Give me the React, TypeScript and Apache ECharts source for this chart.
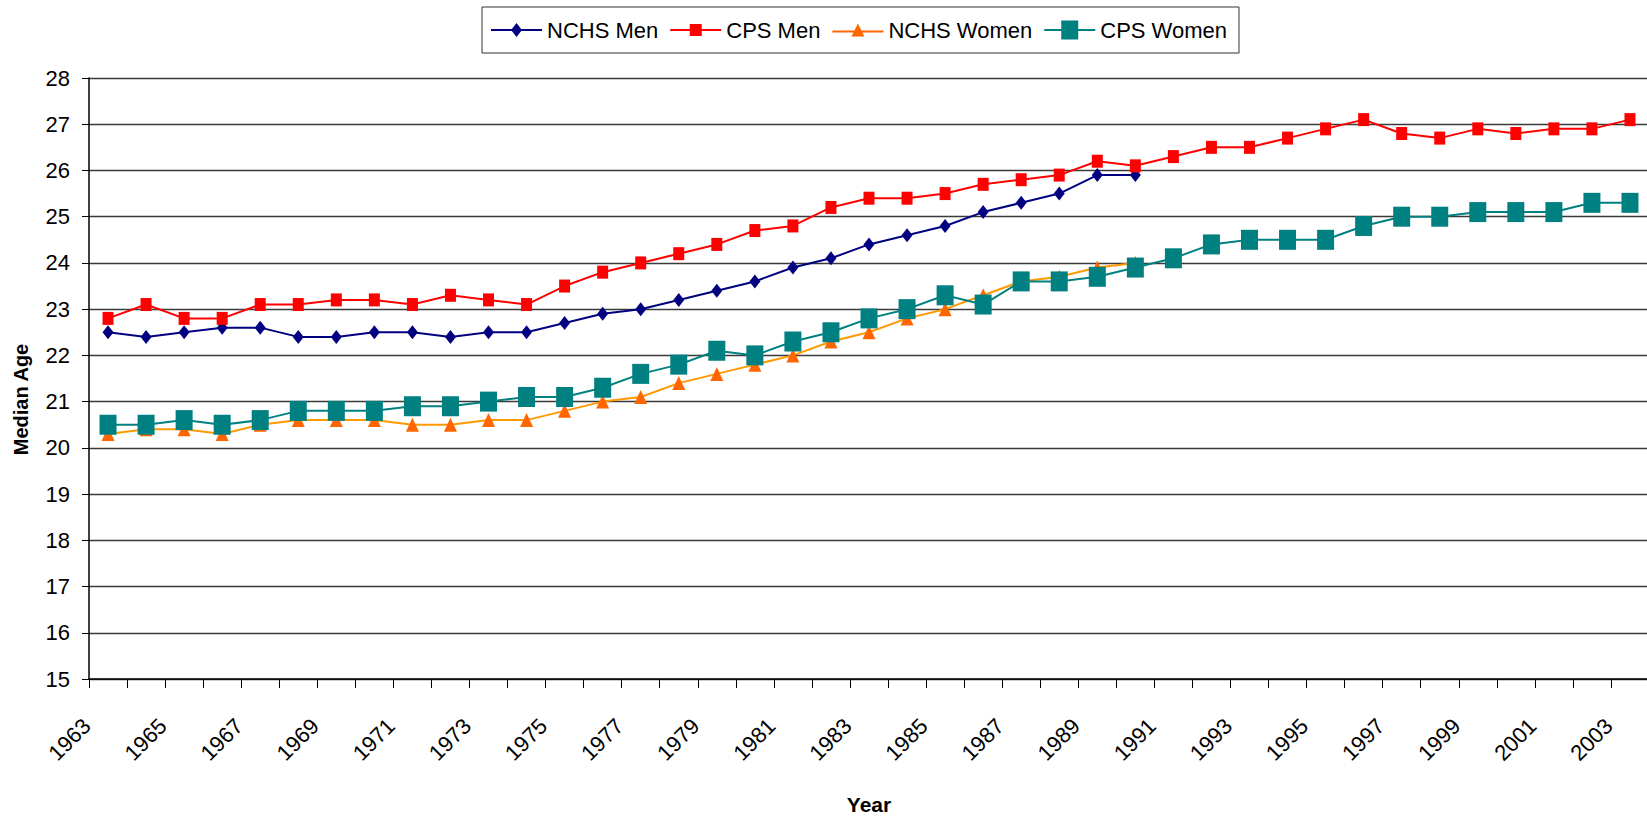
import React, { useEffect, useRef } from "react";
import * as echarts from "echarts";

const years: string[] = [];
for (let y = 1963; y <= 2003; y++) years.push(String(y));

const nchsMen: (number | null)[] = [
  22.5, 22.4, 22.5, 22.6, 22.6, 22.4, 22.4, 22.5, 22.5, 22.4, 22.5, 22.5,
  22.7, 22.9, 23.0, 23.2, 23.4, 23.6, 23.9, 24.1, 24.4, 24.6, 24.8, 25.1, 25.3, 25.5, 25.9, 25.9,
  null, null, null, null, null, null, null, null, null, null, null, null, null,
];

const cpsMen: number[] = [
  22.8, 23.1, 22.8, 22.8, 23.1, 23.1, 23.2, 23.2, 23.1, 23.3, 23.2, 23.1,
  23.5, 23.8, 24.0, 24.2, 24.4, 24.7, 24.8, 25.2, 25.4, 25.4, 25.5, 25.7, 25.8, 25.9, 26.2,
  26.1, 26.3, 26.5, 26.5, 26.7, 26.9, 27.1, 26.8, 26.7, 26.9, 26.8, 26.9, 26.9, 27.1,
];

const nchsWomen: (number | null)[] = [
  20.3, 20.4, 20.4, 20.3, 20.5, 20.6, 20.6, 20.6, 20.5, 20.5, 20.6, 20.6,
  20.8, 21.0, 21.1, 21.4, 21.6, 21.8, 22.0, 22.3, 22.5, 22.8, 23.0, 23.3, 23.6, 23.7, 23.9, 24.0,
  null, null, null, null, null, null, null, null, null, null, null, null, null,
];

const cpsWomen: number[] = [
  20.5, 20.5, 20.6, 20.5, 20.6, 20.8, 20.8, 20.8, 20.9, 20.9, 21.0, 21.1,
  21.1, 21.3, 21.6, 21.8, 22.1, 22.0, 22.3, 22.5, 22.8, 23.0, 23.3, 23.1, 23.6, 23.6, 23.7,
  23.9, 24.1, 24.4, 24.5, 24.5, 24.5, 24.8, 25.0, 25.0, 25.1, 25.1, 25.1, 25.3, 25.3,
];

const seriesNames = ["NCHS Men", "CPS Men", "NCHS Women", "CPS Women"];

const FONT = "'Liberation Sans', Arial, sans-serif";

const legendIcons = [
  "path://M0,6 L51,6 L51,8 L0,8 Z M25.5,0 L31,7 L25.5,14 L20,7 Z",
  "path://M0,5 L51,5 L51,7 L0,7 Z M19.5,0 L31.5,0 L31.5,12 L19.5,12 Z",
  "path://M0,7 L51,7 L51,9 L0,9 Z M25.5,0 L32,13 L19,13 Z",
  "path://M0,8.5 L51,8.5 L51,10.5 L0,10.5 Z M17,0 L34,0 L34,19 L17,19 Z",
];

export default function App() {
  const ref = useRef<HTMLDivElement>(null);

  useEffect(() => {
    if (!ref.current) return;
    const chart = echarts.init(ref.current, null, { renderer: "svg" });
    chart.setOption({
      animation: false,
      backgroundColor: "#ffffff",
      textStyle: { fontFamily: FONT, color: "#000" },
      legend: {
        left: 482,
        top: 7,
        orient: "horizontal",
        selectedMode: false,
        itemWidth: 51,
        itemHeight: 24,
        itemGap: 12,
        padding: [12, 12, 12, 9],
        borderColor: "#333",
        borderWidth: 1,
        backgroundColor: "#fff",
        itemStyle: { borderWidth: 0 },
        textStyle: { fontFamily: FONT, fontSize: 22, color: "#000" },
        data: seriesNames.map((n, i) => ({ name: n, icon: legendIcons[i] })),
      },
      grid: {
        left: 89,
        top: 78,
        width: 1560,
        bottom: 137,
        containLabel: false,
        outerBoundsMode: "none",
      },
      xAxis: {
        type: "category",
        data: years,
        boundaryGap: true,
        name: "Year",
        nameLocation: "middle",
        nameGap: 115,
        nameTextStyle: { fontFamily: FONT, fontSize: 21, fontWeight: "bold", color: "#000" },
        axisLine: { show: true, lineStyle: { color: "#000", width: 1.5 } },
        axisTick: { show: true, interval: 0, alignWithLabel: false, length: 9, lineStyle: { color: "#000" } },
        axisLabel: {
          interval: 1,
          rotate: 45,
          margin: 22,
          padding: [0, 30, 0, 0],
          fontSize: 22,
          fontFamily: FONT,
          color: "#000",
        },
        splitLine: { show: false },
      },
      yAxis: {
        type: "value",
        min: 15,
        max: 28,
        interval: 1,
        name: "Median Age",
        nameLocation: "middle",
        nameGap: 58,
        nameTextStyle: {
          fontFamily: FONT,
          fontSize: 20,
          fontWeight: "bold",
          color: "#000",
          padding: [0, 42, 0, 0],
        },
        axisLine: { show: true, lineStyle: { color: "#000", width: 1.5 } },
        axisTick: { show: true, length: 7, lineStyle: { color: "#000" } },
        axisLabel: { margin: 19, fontSize: 22, fontFamily: FONT, color: "#000" },
        splitLine: { show: true, lineStyle: { color: "#3a3a3a", width: 1.3 } },
      },
      series: [
        {
          name: seriesNames[0],
          type: "line",
          data: nchsMen,
          symbol: "diamond",
          symbolSize: [11, 14],
          connectNulls: false,
          lineStyle: { color: "#000080", width: 2 },
          itemStyle: { color: "#000080" },
        },
        {
          name: seriesNames[1],
          type: "line",
          data: cpsMen,
          symbol: "rect",
          symbolSize: [11, 13],
          lineStyle: { color: "#FF0000", width: 2 },
          itemStyle: { color: "#FF0000" },
        },
        {
          name: seriesNames[2],
          type: "line",
          data: nchsWomen,
          symbol: "triangle",
          symbolSize: [13, 14],
          connectNulls: false,
          lineStyle: { color: "#FF9900", width: 2 },
          itemStyle: { color: "#FF6600" },
        },
        {
          name: seriesNames[3],
          type: "line",
          data: cpsWomen,
          symbol: "rect",
          symbolSize: [17, 20],
          lineStyle: { color: "#008080", width: 2 },
          itemStyle: { color: "#008080" },
        },
      ],
    });
    return () => chart.dispose();
  }, []);

  return (
    <div
      ref={ref}
      style={{ position: "fixed", left: 0, top: 0, width: 1647, height: 816 }}
    />
  );
}
